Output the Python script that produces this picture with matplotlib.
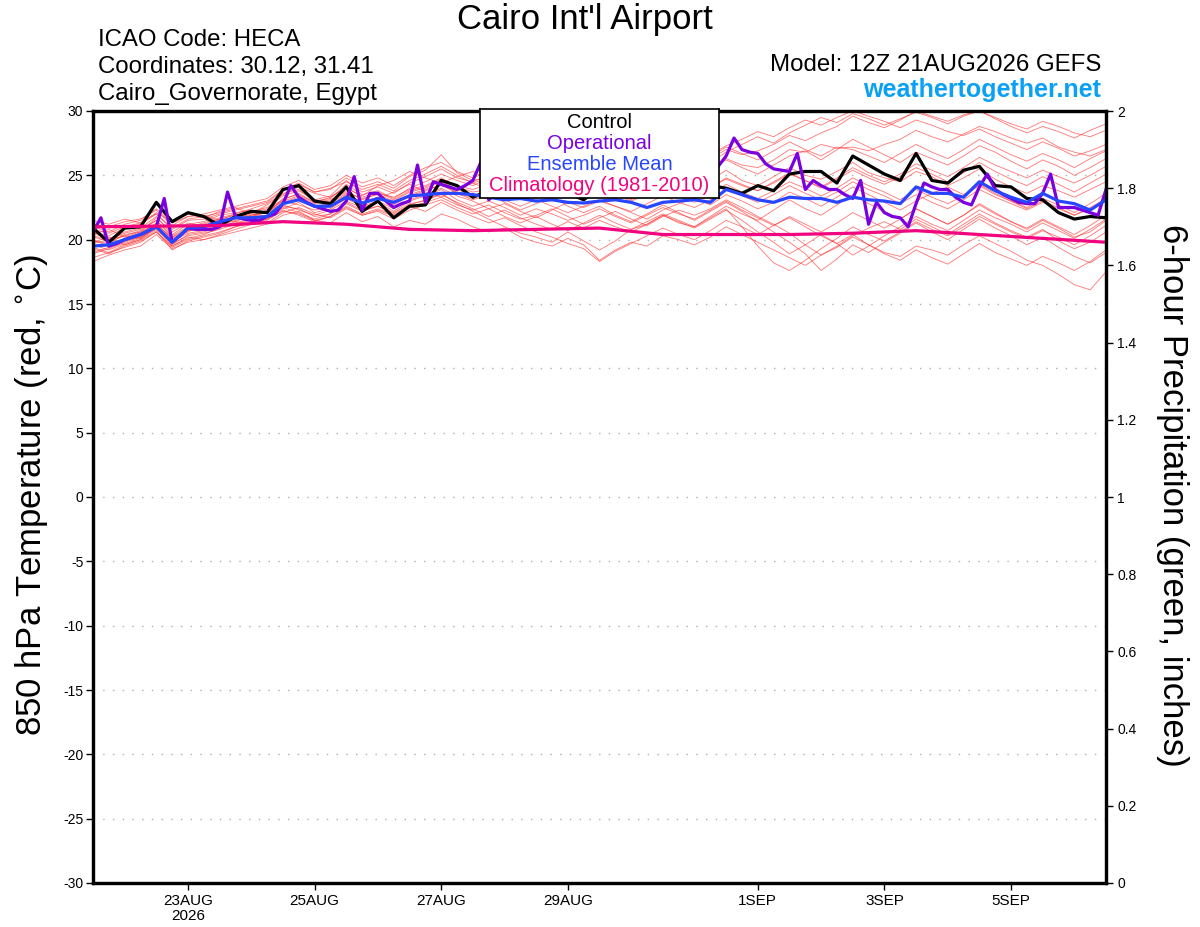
import matplotlib
matplotlib.use("Agg")
import matplotlib.pyplot as plt
import pandas as pd

plt.rcParams['font.family'] = ['Liberation Sans', 'DejaVu Sans']

# ---------------- data ----------------
start = '2026-08-21 12:00'
times6 = pd.date_range(start, periods=65, freq='6h')
times3 = pd.date_range(start, periods=129, freq='3h')
clim_times = pd.date_range(start, periods=17, freq='24h')

control = [20.9, 19.8, 20.9, 21.0, 22.9, 21.4, 22.1, 21.8, 21.1, 21.8, 22.2, 22.1, 23.9, 24.2, 23.0, 22.8,
           24.1, 22.2, 23.0, 21.7, 22.6, 22.7, 24.6, 24.2, 23.3, 23.8, 24.3, 24.0, 24.5, 23.9, 23.6, 23.1,
           24.0, 24.2, 23.7, 24.1, 24.6, 24.0, 23.8, 24.2, 24.0, 23.6, 24.2, 23.8, 25.1, 25.3, 25.3, 24.4,
           26.5, 25.8, 25.1, 24.6, 26.7, 24.6, 24.4, 25.4, 25.7, 24.2, 24.1, 23.2, 23.1, 22.1, 21.6, 21.8,
           21.7]

ens_mean = [19.5, 19.6, 20.0, 20.4, 21.0, 19.8, 20.9, 21.0, 21.4, 21.7, 21.7, 21.8, 22.8, 23.1, 22.6, 22.6,
            23.3, 22.85, 23.2, 22.9, 23.4, 23.5, 23.6, 23.6, 23.5, 23.3, 23.1, 23.2, 23.0, 23.1, 22.9, 22.85,
            23.0, 23.1, 22.9, 22.5, 22.9, 23.0, 23.1, 22.9, 23.9, 23.5, 23.1, 22.9, 23.3, 23.2, 23.2, 22.9,
            23.3, 23.1, 23.0, 22.8, 24.1, 23.6, 23.6, 23.3, 24.5, 23.8, 23.3, 22.9, 23.6, 23.0, 22.8, 22.3,
            23.1]

operational = [20.6, 21.7, 19.5, 19.7, 20.0, 20.2, 20.4, 20.7, 21.0, 23.2, 19.8, 20.3, 20.9, 20.8, 20.8, 20.8,
               21.0, 23.7, 21.8, 21.6, 21.5, 21.5, 21.8, 22.0, 22.8, 24.2, 23.3, 22.9, 22.6, 22.4, 22.2, 22.3,
               23.0, 24.9, 22.3, 23.6, 23.6, 23.0, 22.5, 22.8, 23.0, 25.8, 22.9, 24.5, 24.3, 24.1, 23.9, 24.2,
               24.6, 26.0, 23.1, 23.6, 23.8, 24.0, 24.2, 24.0, 24.3, 26.0, 24.0, 23.8, 23.9, 23.7, 23.8, 24.1,
               24.3, 26.2, 24.2, 23.9, 23.8, 24.0, 23.9, 24.2, 24.4, 26.5, 24.5, 24.3, 24.5, 24.8, 25.2, 25.7,
               26.5, 27.9, 27.0, 26.8, 26.7, 25.9, 25.5, 25.4, 25.3, 26.7, 23.9, 24.6, 24.2, 23.9, 23.9, 23.5,
               23.2, 24.6, 21.2, 22.9, 22.1, 21.8, 21.7, 21.0, 22.8, 24.4, 24.1, 23.9, 23.9, 23.3, 22.9, 22.7,
               24.1, 25.1, 23.9, 23.5, 23.2, 22.9, 22.8, 22.8, 23.6, 25.1, 22.5, 22.5, 22.5, 22.3, 22.1, 21.9,
               23.9]

climatology = [21.0, 21.05, 21.1, 21.4, 21.2, 20.8, 20.7, 20.8, 20.9, 20.4, 20.4, 20.4, 20.5, 20.7, 20.4, 20.1,
               19.8]

members = [
    [21.2, 21.0, 21.4, 21.6, 22.3, 21.1, 21.8, 21.9, 21.5, 22.0, 22.4, 22.8, 23.6, 23.9, 23.0, 23.2,
     24.3, 23.5, 23.8, 23.2, 24.0, 24.5, 25.1, 24.6, 24.2, 24.8, 25.3, 24.9, 25.0, 24.4, 24.1, 24.6,
     25.2, 25.0, 24.7, 25.4, 25.9, 25.5, 25.0, 25.6, 26.3, 25.8, 25.6, 26.2, 27.0, 26.8, 27.4, 27.1,
     27.2, 26.9, 27.4, 27.8, 28.5, 28.0, 27.6, 28.2, 28.8, 28.4, 27.9, 27.5, 27.9, 27.2, 26.8, 26.5, 27.0],
    [18.3, 18.8, 19.2, 19.5, 20.4, 19.3, 19.8, 20.0, 20.3, 20.6, 20.9, 21.2, 21.9, 22.2, 21.5, 21.3,
     22.1, 21.4, 21.8, 21.0, 21.5, 21.2, 22.0, 21.6, 21.0, 20.6, 20.9, 20.2, 19.8, 19.5, 20.1, 19.6,
     18.4, 19.2, 19.8, 19.5, 20.3, 20.0, 19.6, 20.2, 21.0, 20.4, 19.8, 19.2, 18.6, 18.0, 18.8, 19.4,
     20.2, 19.6, 19.0, 18.7, 19.5, 19.2, 18.8, 19.6, 20.3, 19.7, 19.1, 18.4, 18.0, 17.3, 16.5, 16.1, 17.5],
    [20.5, 20.1, 20.6, 20.9, 21.8, 20.4, 21.2, 21.4, 21.9, 22.1, 22.3, 22.0, 23.2, 23.5, 22.9, 23.1,
     23.8, 23.1, 23.6, 23.3, 23.9, 24.2, 24.8, 24.1, 23.7, 23.9, 24.5, 24.1, 23.5, 23.2, 23.8, 24.3,
     24.8, 24.2, 23.9, 24.5, 25.1, 24.4, 23.8, 24.6, 25.4, 24.6, 24.2, 24.9, 25.6, 25.0, 24.7, 25.3,
     26.0, 25.2, 24.8, 24.5, 25.3, 24.9, 24.2, 24.8, 25.5, 24.7, 24.1, 23.6, 24.2, 23.8, 23.3, 23.9, 24.5],
    [19.6, 19.2, 19.7, 20.1, 21.0, 19.6, 20.4, 20.6, 21.0, 21.3, 21.6, 21.9, 22.6, 22.4, 21.8, 22.0,
     22.9, 22.3, 22.6, 22.1, 22.8, 23.0, 23.6, 22.8, 22.2, 21.6, 21.0, 20.5, 20.2, 19.8, 20.6, 19.9,
     19.2, 19.9, 20.8, 21.2, 21.9, 21.3, 21.0, 21.8, 22.6, 22.0, 21.5, 22.3, 23.1, 22.4, 21.9, 22.7,
     23.5, 22.8, 22.2, 21.6, 22.4, 21.8, 21.2, 21.9, 22.8, 22.1, 21.4, 20.8, 21.5, 20.9, 20.2, 20.6, 21.5],
    [20.2, 19.9, 20.3, 20.7, 21.5, 20.2, 20.9, 21.1, 21.6, 21.9, 22.2, 22.5, 23.4, 23.8, 23.1, 23.4,
     24.6, 23.7, 24.1, 23.6, 24.4, 24.9, 25.5, 24.8, 24.5, 25.0, 25.4, 25.1, 24.8, 25.3, 25.7, 25.2,
     25.6, 25.9, 26.2, 25.8, 26.4, 26.0, 25.7, 26.3, 27.0, 26.6, 26.9, 27.4, 28.1, 27.7, 28.3, 28.8,
     29.6, 29.1, 28.7, 29.3, 30.0, 29.6, 29.2, 29.7, 30.0, 29.5, 29.0, 28.6, 29.2, 28.8, 28.3, 28.0, 28.5],
    [19.0, 19.4, 19.9, 20.2, 20.8, 19.7, 20.3, 20.5, 20.8, 21.2, 21.5, 21.3, 22.1, 22.5, 22.0, 21.7,
     22.4, 21.9, 22.3, 21.8, 22.5, 22.9, 23.3, 22.7, 22.3, 22.7, 22.1, 21.6, 21.9, 22.4, 21.8, 21.2,
     21.7, 22.2, 21.6, 21.1, 21.8, 22.3, 21.9, 22.4, 23.1, 22.5, 21.8, 21.2, 20.5, 19.6, 18.8, 19.5,
     20.3, 20.9, 21.4, 20.8, 21.6, 21.0, 20.4, 21.2, 22.0, 21.3, 20.7, 20.2, 20.8, 19.9, 19.3, 19.8, 20.6],
    [21.5, 21.2, 21.6, 21.3, 22.1, 21.4, 22.0, 21.7, 22.2, 22.5, 22.0, 22.7, 23.5, 24.1, 23.6, 23.3,
     24.0, 23.4, 24.2, 24.6, 25.3, 24.8, 24.4, 24.9, 25.3, 24.6, 24.0, 23.6, 24.2, 24.8, 24.3, 23.8,
     24.3, 23.6, 23.2, 23.9, 24.6, 25.2, 24.7, 25.5, 26.2, 25.6, 25.1, 25.8, 26.5, 26.9, 26.2, 27.0,
     27.8, 27.2, 26.6, 26.0, 26.8, 26.3, 25.8, 26.5, 27.3, 26.8, 26.1, 25.5, 26.2, 25.7, 25.0, 25.6, 26.3],
    [19.8, 20.2, 19.6, 20.0, 20.9, 19.5, 20.1, 20.4, 20.9, 21.4, 21.2, 21.6, 22.4, 22.9, 22.1, 22.4,
     23.2, 22.6, 23.0, 22.4, 23.1, 23.5, 24.0, 23.4, 23.0, 22.4, 22.8, 22.2, 21.7, 22.3, 22.9, 22.5,
     23.0, 22.6, 22.1, 21.6, 22.3, 22.8, 23.2, 22.7, 23.5, 23.0, 22.4, 22.9, 23.7, 23.2, 22.6, 23.3,
     24.1, 23.5, 22.9, 22.3, 23.0, 23.6, 24.1, 23.5, 24.3, 23.6, 23.0, 22.5, 23.2, 22.7, 22.1, 22.8, 23.6],
    [20.0, 19.5, 20.1, 20.5, 21.3, 20.0, 20.7, 20.9, 21.3, 21.7, 22.0, 21.8, 22.9, 23.3, 22.6, 22.8,
     23.6, 22.9, 23.3, 22.7, 23.4, 23.8, 24.3, 23.6, 23.1, 23.5, 22.9, 22.3, 22.8, 23.4, 22.6, 22.1,
     22.6, 21.9, 21.4, 22.0, 22.7, 22.1, 21.5, 22.2, 22.9, 22.2, 21.4, 20.6, 19.8, 18.9, 17.6, 18.5,
     19.6, 19.0, 19.8, 20.5, 21.3, 20.6, 20.0, 20.8, 21.6, 20.9, 20.3, 19.6, 20.2, 19.4, 18.7, 18.2, 19.0],
    [20.8, 20.5, 21.0, 21.3, 22.0, 20.8, 21.5, 21.6, 22.0, 22.3, 22.6, 22.9, 23.8, 24.3, 23.7, 23.9,
     24.8, 24.1, 24.5, 24.0, 24.9, 25.4, 26.6, 25.2, 24.6, 24.9, 25.5, 25.9, 25.4, 24.8, 25.2, 25.6,
     26.1, 25.5, 24.9, 24.3, 24.8, 25.3, 24.6, 24.1, 24.7, 24.2, 23.8, 24.5, 25.2, 24.6, 24.0, 24.7,
     25.4, 24.8, 24.3, 24.9, 25.6, 25.1, 24.5, 25.2, 26.0, 25.3, 24.7, 24.2, 24.9, 24.3, 23.7, 24.4, 25.1],
    [19.3, 18.9, 19.5, 19.9, 20.6, 19.4, 20.0, 20.3, 20.6, 21.0, 21.3, 21.6, 22.2, 22.0, 21.5, 21.8,
     22.6, 22.0, 22.4, 21.9, 22.6, 22.2, 22.9, 22.3, 21.8, 21.3, 21.7, 21.1, 20.6, 20.2, 19.7, 19.3,
     18.3, 19.1, 19.7, 20.3, 20.9, 20.4, 20.0, 20.7, 21.5, 21.0, 20.4, 21.1, 21.8, 21.2, 20.6, 21.3,
     22.1, 21.5, 20.9, 21.6, 22.4, 21.8, 21.2, 21.9, 22.7, 22.0, 21.4, 20.9, 21.6, 21.0, 20.4, 21.1, 21.9],
    [20.4, 20.8, 20.2, 20.6, 21.7, 20.6, 21.3, 21.0, 21.4, 21.8, 22.1, 22.4, 23.1, 23.6, 22.9, 23.3,
     24.1, 23.3, 23.7, 23.1, 23.8, 24.1, 24.7, 24.2, 23.9, 24.3, 24.0, 24.6, 25.1, 24.7, 25.3, 25.0,
     25.6, 26.1, 25.7, 26.3, 26.8, 26.4, 27.0, 26.6, 27.3, 27.8, 28.4, 28.0, 28.7, 29.3, 28.9, 29.5,
     30.0, 29.6, 29.2, 28.7, 29.3, 28.9, 28.4, 28.1, 28.6, 28.0, 27.5, 27.0, 27.6, 27.1, 26.5, 26.9, 27.4],
    [19.9, 19.7, 20.4, 20.6, 21.2, 20.1, 20.6, 21.2, 21.6, 21.4, 21.9, 22.3, 23.0, 22.7, 22.3, 22.6,
     23.4, 22.8, 23.2, 23.7, 24.3, 23.7, 23.3, 23.9, 24.4, 23.9, 23.4, 23.9, 24.4, 23.8, 23.3, 23.7,
     24.2, 23.5, 23.0, 23.5, 24.0, 23.4, 22.9, 23.5, 24.3, 23.7, 23.2, 23.8, 24.5, 24.0, 23.4, 24.0,
     24.8, 24.2, 23.7, 23.1, 23.9, 23.3, 22.8, 23.4, 24.2, 23.5, 23.0, 22.4, 23.0, 22.5, 21.9, 22.4, 23.0],
    [18.9, 19.3, 19.8, 20.2, 21.0, 19.9, 20.5, 20.7, 21.1, 21.5, 21.8, 22.1, 22.7, 22.3, 21.9, 22.3,
     23.0, 22.5, 22.9, 22.2, 23.0, 23.4, 23.9, 23.1, 22.6, 23.0, 22.5, 21.9, 22.4, 22.0, 21.5, 21.9,
     22.4, 21.8, 21.3, 21.9, 22.5, 22.0, 21.6, 22.3, 23.0, 22.3, 21.7, 21.1, 21.7, 21.0, 20.3, 19.7,
     20.4, 19.6, 18.9, 18.4, 19.2, 18.6, 18.1, 18.9, 19.7, 19.0, 18.5, 18.0, 18.7, 18.2, 17.6, 18.3, 19.2],
    [21.0, 20.6, 21.2, 21.5, 22.4, 21.3, 21.8, 22.0, 22.3, 22.6, 22.9, 23.2, 24.1, 24.6, 23.9, 24.2,
     25.0, 24.4, 24.8, 24.2, 25.0, 25.6, 26.0, 25.3, 24.8, 25.3, 25.8, 25.3, 24.9, 25.4, 26.0, 25.6,
     26.2, 25.7, 25.3, 25.9, 26.6, 26.1, 25.7, 26.4, 27.2, 26.7, 26.2, 26.9, 27.6, 27.0, 26.5, 27.2,
     27.0, 26.5, 26.0, 26.7, 27.4, 26.8, 26.3, 27.0, 27.8, 27.2, 26.6, 26.1, 26.7, 26.2, 25.6, 26.3, 26.9],
    [19.4, 19.0, 19.6, 20.0, 20.7, 19.2, 19.9, 20.2, 20.5, 21.0, 21.3, 21.7, 22.5, 22.1, 21.6, 22.0,
     22.8, 22.2, 22.6, 22.0, 22.7, 23.1, 23.5, 22.9, 22.4, 21.8, 22.3, 21.7, 21.2, 20.8, 21.4, 20.9,
     21.5, 21.0, 20.6, 21.2, 21.9, 21.4, 20.9, 21.6, 22.3, 21.5, 20.6, 19.8, 18.9, 19.6, 20.4, 19.7,
     18.8, 19.5, 20.3, 21.0, 21.8, 21.2, 20.7, 21.5, 22.3, 21.7, 21.2, 20.6, 21.3, 20.7, 20.1, 20.8, 21.6],
    [20.3, 20.0, 20.5, 20.8, 21.5, 20.3, 21.0, 21.3, 21.7, 22.0, 21.8, 22.2, 23.0, 23.4, 22.8, 23.0,
     23.7, 23.2, 23.5, 23.0, 23.7, 24.0, 24.5, 23.9, 23.4, 23.8, 24.2, 23.7, 23.2, 23.6, 24.1, 23.6,
     24.1, 23.6, 23.1, 23.7, 24.3, 23.8, 23.4, 24.0, 24.8, 24.3, 23.8, 24.4, 25.1, 24.6, 24.1, 24.8,
     25.6, 25.0, 24.5, 25.1, 25.9, 25.4, 24.9, 25.6, 26.4, 25.8, 25.3, 24.8, 25.4, 24.9, 24.4, 25.0, 25.7],
    [18.6, 19.0, 19.4, 19.8, 20.6, 19.5, 20.2, 20.0, 20.4, 20.8, 21.2, 21.5, 22.3, 21.9, 21.4, 21.8,
     22.5, 21.9, 22.2, 21.6, 22.3, 22.7, 23.1, 22.5, 22.0, 22.4, 21.8, 21.3, 21.8, 21.2, 20.7, 21.3,
     21.9, 21.3, 20.8, 21.4, 22.0, 21.5, 21.0, 21.7, 22.4, 21.0, 19.5, 18.2, 17.6, 18.4, 19.3, 20.1,
     21.0, 20.4, 19.9, 20.6, 21.4, 20.8, 20.3, 21.0, 21.8, 21.2, 20.6, 20.1, 20.7, 20.2, 19.6, 20.3, 21.1],
    [20.6, 20.3, 20.9, 21.2, 22.0, 20.9, 21.6, 21.8, 22.1, 22.4, 22.7, 23.0, 23.9, 24.4, 23.7, 24.0,
     24.5, 23.9, 24.3, 23.8, 24.6, 25.1, 25.7, 25.0, 24.4, 24.8, 24.3, 23.7, 24.2, 24.7, 24.2, 23.7,
     24.2, 24.7, 25.2, 24.6, 25.3, 25.9, 26.5, 26.0, 26.8, 27.4, 28.0, 27.5, 28.3, 28.9, 29.5, 29.1,
     29.8, 29.4, 28.9, 29.4, 29.9, 29.5, 29.0, 29.6, 30.0, 29.4, 28.8, 28.3, 28.8, 28.4, 27.9, 28.5, 29.0],
    [19.7, 20.0, 20.3, 20.1, 21.1, 20.2, 20.7, 20.8, 21.2, 21.6, 21.9, 22.2, 22.8, 23.1, 22.5, 22.7,
     23.5, 22.9, 23.3, 22.8, 23.5, 23.9, 24.2, 23.7, 23.2, 23.6, 23.1, 22.6, 23.1, 22.6, 22.1, 22.6,
     23.1, 22.6, 22.2, 22.8, 23.4, 22.9, 22.5, 23.1, 23.9, 23.4, 22.9, 23.5, 24.2, 23.6, 23.1, 23.7,
     24.5, 23.9, 23.4, 22.8, 23.5, 22.9, 22.4, 23.1, 23.9, 23.3, 22.8, 22.3, 22.9, 22.4, 21.9, 22.5, 23.2],
]

tick_dates = ['2026-08-23', '2026-08-25', '2026-08-27', '2026-08-29', '2026-09-01', '2026-09-03', '2026-09-05']
tick_labels = ['23AUG\n2026', '25AUG', '27AUG', '29AUG', '1SEP', '3SEP', '5SEP']
temp_ticks = list(range(-30, 31, 5))
precip_ticks = [0, 0.2, 0.4, 0.6, 0.8, 1, 1.2, 1.4, 1.6, 1.8, 2]

title = "Cairo Int'l Airport"
info_left = ["ICAO Code: HECA", "Coordinates: 30.12, 31.41", "Cairo_Governorate, Egypt"]
model_text = "Model: 12Z 21AUG2026 GEFS"
site_text = "weathertogether.net"
left_label = "850 hPa Temperature (red, $^{\\circ}$C)"
right_label = "6-hour Precipitation (green, inches)"
legend_items = [("Control", "black"), ("Operational", "#7b00e0"),
                ("Ensemble Mean", "#2846ff"), ("Climatology (1981-2010)", "#f0047f")]

# ---------------- figure ----------------
fig = plt.figure(figsize=(12, 9.27), dpi=100)
ax = fig.add_axes([93 / 1200, 44 / 927, 1013 / 1200, 772 / 927])

for m in members:
    ax.plot(times6, m, color='#ff2a2a', lw=0.6, alpha=0.65, zorder=2)
ax.plot(times6, control, color='black', lw=2.3, zorder=4)
ax.plot(times3, operational, color='#7b00e0', lw=2.3, zorder=5)
ax.plot(times6, ens_mean, color='#2846ff', lw=2.3, zorder=6)
ax.plot(clim_times, climatology, color='#f0047f', lw=2.3, zorder=7)

ax.set_xlim(times6[0], times6[-1])
ax.set_ylim(-30, 30)
ax.set_yticks(temp_ticks)
ax.set_yticklabels([str(t) for t in temp_ticks], fontsize=10)
ax.set_xticks(pd.to_datetime(tick_dates))
ax.set_xticklabels(tick_labels, fontsize=11, linespacing=1.05)
ax.tick_params(axis='both', direction='out', length=5, width=1)
ax.tick_params(axis='x', pad=3)
ax.tick_params(axis='y', pad=2)
for t in temp_ticks[1:-1]:
    ax.axhline(t, color='#b0b0b0', lw=1.0, ls=(0, (1, 6)), zorder=1)
for s in ax.spines.values():
    s.set_linewidth(2.3)

ax2 = ax.twinx()
ax2.set_ylim(0, 2)
ax2.set_yticks(precip_ticks)
ax2.set_yticklabels(['%g' % p for p in precip_ticks], fontsize=10)
ax2.tick_params(axis='y', direction='out', length=5, width=1, pad=3)
for s in ax2.spines.values():
    s.set_linewidth(2.3)

fig.text(32 / 1200, 1 - 495 / 927, left_label, fontsize=25, rotation=90, ha='center', va='center')
fig.text(1172 / 1200, 1 - 495 / 927, right_label, fontsize=25, rotation=-90, ha='center', va='center')

# legend box
leg_ax = fig.add_axes([480 / 1200, 1 - 198 / 927, 239 / 1200, 89 / 927])
leg_ax.set_xticks([])
leg_ax.set_yticks([])
leg_ax.set_xlim(0, 1)
leg_ax.set_ylim(0, 1)
for s in leg_ax.spines.values():
    s.set_linewidth(1.2)
for k, (txt, col) in enumerate(legend_items):
    leg_ax.text(0.5, 0.85 - k * 0.235, txt, color=col, fontsize=14.5, ha='center', va='center')

# header texts
fig.text(585 / 1200, 1 - 19 / 927, title, fontsize=25, ha='center', va='center')
for k, line in enumerate(info_left):
    fig.text(98 / 1200, 1 - (46 + 27 * k) / 927, line, fontsize=17.3, ha='left', va='baseline')
fig.text(1101 / 1200, 1 - 71 / 927, model_text, fontsize=17.3, ha='right', va='baseline')
fig.text(1101 / 1200, 1 - 97 / 927, site_text, fontsize=18, ha='right', va='baseline',
         color='#0aa0f5', fontweight='bold')

fig.savefig('out.png', dpi=100)
